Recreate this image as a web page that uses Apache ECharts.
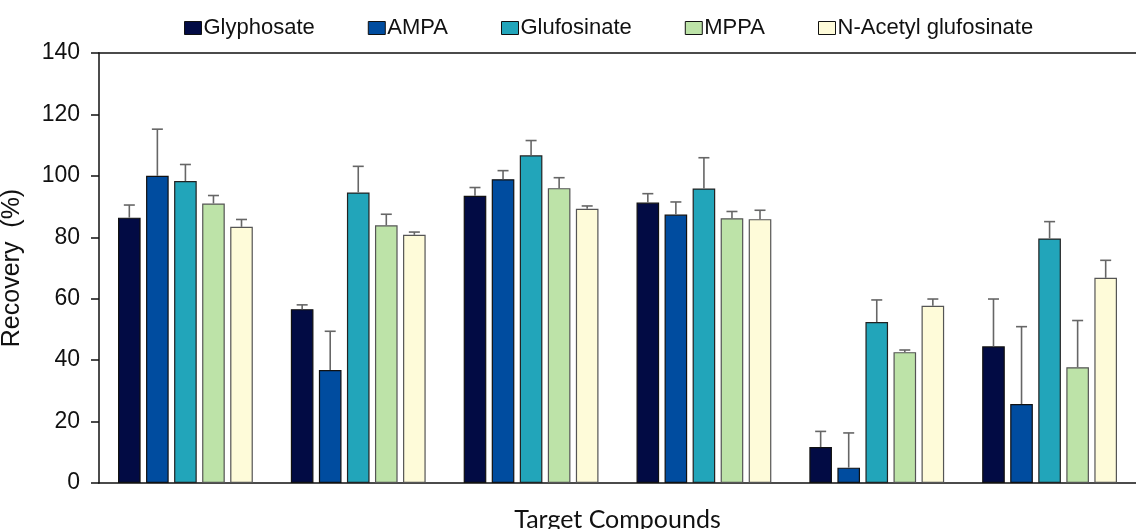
<!DOCTYPE html>
<html>
<head>
<meta charset="utf-8">
<script src="https://cdn.jsdelivr.net/npm/echarts@6/dist/echarts.min.js"></script>
<style>html,body{margin:0;padding:0;background:#fff}#c{width:1136px;height:529px}</style>
</head>
<body>
<div id="c"></div>
<script>
var categories = ['1', '2', '3', '4', '5', '6'];
var seriesNames = ['Glyphosate', 'AMPA', 'Glufosinate', 'MPPA', 'N-Acetyl glufosinate'];
var glyphosate = [86.4, 56.6, 93.5, 91.3, 11.7, 44.5];
var glyphosateErr = [4.1, 1.4, 2.7, 2.9, 5.1, 15.4];
var ampa = [100.0, 36.8, 98.9, 87.4, 5.0, 25.7];
var ampaErr = [15.2, 12.6, 2.8, 4.1, 11.3, 25.2];
var glufosinate = [98.3, 94.6, 106.7, 95.9, 52.4, 79.6];
var glufosinateErr = [5.4, 8.5, 4.8, 10.0, 7.2, 5.5];
var mppa = [91.0, 83.9, 96.0, 86.2, 42.6, 37.7];
var mppaErr = [2.6, 3.6, 3.4, 2.2, 0.7, 15.2];
var nacetyl = [83.4, 80.8, 89.3, 85.9, 57.7, 66.8];
var nacetylErr = [2.4, 0.9, 0.9, 2.9, 2.2, 5.7];
var yTicks = [0, 20, 40, 60, 80, 100, 120, 140];

var values = [glyphosate, ampa, glufosinate, mppa, nacetyl];
var errors = [glyphosateErr, ampaErr, glufosinateErr, mppaErr, nacetylErr];
var colors = ['#020B44', '#004C9F', '#22A5BA', '#BDE3A8', '#FEFBD9'];
var borders = ['#111', '#111', '#222', '#555', '#555'];

var CAT_GAP = 0.22, BAR_GAP = 0.24, N = 5;

var series = [];
values.forEach(function (vals, i) {
  series.push({
    name: seriesNames[i],
    type: 'bar',
    data: vals,
    barCategoryGap: '22%',
    barGap: '24%',
    itemStyle: { color: colors[i], borderColor: borders[i], borderWidth: 1.2 }
  });
});
values.forEach(function (vals, i) {
  series.push({
    type: 'custom',
    name: seriesNames[i] + ' err',
    silent: true,
    z: 5,
    data: vals.map(function (v, k) { return [k, v, errors[i][k]]; }),
    encode: { x: 0, y: 1 },
    renderItem: function (params, api) {
      var k = api.value(0), v = api.value(1), e = api.value(2);
      var C = api.size([1, 0])[0];
      var w = C * (1 - CAT_GAP) / (N + (N - 1) * BAR_GAP);
      var pitch = w * (1 + BAR_GAP);
      var base = api.coord([k, v]);
      var top = api.coord([k, v + e]);
      var x = base[0] + (i - (N - 1) / 2) * pitch;
      var capHalf = 5.5;
      var st = { stroke: '#666', lineWidth: 1.6 };
      return {
        type: 'group',
        children: [
          { type: 'line', shape: { x1: x, y1: base[1], x2: x, y2: top[1] }, style: st },
          { type: 'line', shape: { x1: x - capHalf, y1: top[1], x2: x + capHalf, y2: top[1] }, style: st }
        ]
      };
    }
  });
});

var chart = echarts.init(document.getElementById('c'));
chart.setOption({
  animation: false,
  legend: {
    data: seriesNames,
    top: 12,
    left: 179,
    itemWidth: 17,
    itemHeight: 13,
    itemGap: 53,
    icon: 'rect',
    itemStyle: { borderColor: '#111', borderWidth: 1 },
    textStyle: { fontFamily: 'Liberation Sans, Arial', fontSize: 22, color: '#111', padding: [0, 0, 0, -3] }
  },
  grid: { left: 99, right: 0, top: 53, bottom: 46, containLabel: false, outerBoundsMode: 'none' },
  xAxis: [{
    type: 'category',
    data: categories,
    name: 'Target Compounds',
    nameLocation: 'middle',
    nameGap: 24,
    nameTextStyle: { fontFamily: 'Lato, Open Sans', fontSize: 25, color: '#111', verticalAlign: 'top' },
    axisLine: { lineStyle: { color: '#111', width: 1.5 } },
    axisTick: { show: false },
    axisLabel: { show: false }
  }, {
    type: 'category',
    data: categories,
    position: 'top',
    axisLine: { show: true, lineStyle: { color: '#111', width: 1.5 } },
    axisTick: { show: false },
    axisLabel: { show: false }
  }],
  yAxis: {
    type: 'value',
    min: 0,
    max: 140,
    interval: 20,
    name: 'Recovery  (%)',
    nameLocation: 'middle',
    nameGap: 74,
    nameTextStyle: { fontFamily: 'Liberation Sans, Arial', fontSize: 25, color: '#111' },
    axisLine: { show: true, lineStyle: { color: '#111', width: 1.5 } },
    axisTick: { show: true, length: 8, lineStyle: { color: '#111', width: 1.5 } },
    axisLabel: {
      fontFamily: 'Liberation Sans, Arial', fontSize: 23, color: '#111', margin: 19,
      formatter: function (v) { return yTicks.indexOf(v) >= 0 ? String(v) : ''; }
    },
    splitLine: { show: false }
  },
  series: series
});
</script>
</body>
</html>
